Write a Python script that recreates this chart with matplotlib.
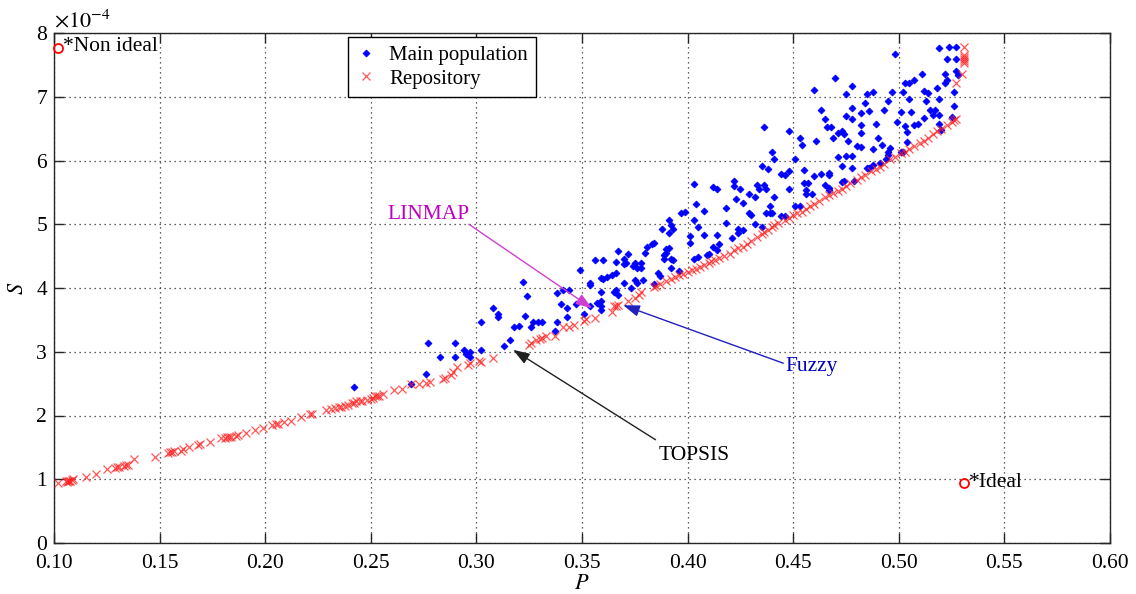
import matplotlib
matplotlib.use("Agg")
import matplotlib.pyplot as plt

plt.rcParams["font.family"] = ["Liberation Serif", "DejaVu Serif"]
plt.rcParams["mathtext.fontset"] = "stix"

# Main population (P, S x 1e-4)
main_p = [0.242, 0.269, 0.276, 0.277, 0.283, 0.290, 0.290, 0.294, 0.295, 0.297,
          0.297, 0.302, 0.302, 0.308, 0.310, 0.310, 0.313, 0.316, 0.318, 0.320,
          0.322, 0.324, 0.323, 0.326, 0.327, 0.329, 0.331, 0.337, 0.338, 0.338,
          0.341, 0.344, 0.340, 0.343, 0.343, 0.347, 0.349, 0.351, 0.354, 0.354,
          0.354, 0.356, 0.357, 0.359, 0.359, 0.359, 0.359, 0.359, 0.360, 0.360,
          0.362, 0.364, 0.365, 0.366, 0.366, 0.366, 0.367, 0.367, 0.370, 0.370,
          0.370, 0.371, 0.372, 0.373, 0.374, 0.375, 0.375, 0.376, 0.376, 0.378,
          0.378, 0.379, 0.380, 0.381, 0.383, 0.384, 0.384, 0.386, 0.387, 0.388,
          0.389, 0.389, 0.390, 0.390, 0.391, 0.391, 0.391, 0.392, 0.392, 0.392,
          0.393, 0.393, 0.396, 0.397, 0.399, 0.401, 0.401, 0.403, 0.403, 0.403,
          0.404, 0.405, 0.405, 0.408, 0.408, 0.409, 0.410, 0.412, 0.412, 0.414,
          0.414, 0.414, 0.415, 0.418, 0.418, 0.421, 0.422, 0.422, 0.423, 0.424,
          0.424, 0.425, 0.426, 0.426, 0.429, 0.429, 0.430, 0.432, 0.432, 0.433,
          0.434, 0.435, 0.435, 0.436, 0.436, 0.437, 0.437, 0.438, 0.439, 0.439,
          0.440, 0.440, 0.441, 0.441, 0.444, 0.444, 0.446, 0.446, 0.448, 0.448,
          0.448, 0.451, 0.451, 0.453, 0.453, 0.454, 0.455, 0.455, 0.456, 0.456,
          0.457, 0.459, 0.460, 0.460, 0.461, 0.463, 0.463, 0.465, 0.465, 0.466,
          0.467, 0.467, 0.467, 0.467, 0.468, 0.469, 0.470, 0.471, 0.471, 0.473,
          0.473, 0.473, 0.474, 0.474, 0.475, 0.475, 0.475, 0.476, 0.478, 0.478,
          0.478, 0.478, 0.478, 0.479, 0.480, 0.482, 0.482, 0.482, 0.482, 0.484,
          0.485, 0.485, 0.486, 0.486, 0.488, 0.488, 0.488, 0.489, 0.490, 0.491,
          0.492, 0.493, 0.494, 0.495, 0.495, 0.495, 0.496, 0.497, 0.498, 0.499,
          0.501, 0.501, 0.502, 0.502, 0.503, 0.503, 0.504, 0.504, 0.505, 0.505,
          0.506, 0.507, 0.507, 0.509, 0.511, 0.512, 0.512, 0.513, 0.514, 0.515,
          0.516, 0.517, 0.518, 0.519, 0.519, 0.519, 0.519, 0.520, 0.522, 0.522,
          0.523, 0.523, 0.524, 0.525, 0.526, 0.526, 0.527, 0.527, 0.527, 0.528]
main_s = [2.44, 2.49, 2.65, 3.14, 2.92, 3.14, 2.92, 3.03, 2.96, 2.92,
          3.00, 3.47, 3.03, 3.68, 3.60, 3.55, 3.09, 3.19, 3.39, 3.41,
          4.10, 3.87, 3.56, 3.39, 3.46, 3.46, 3.46, 3.32, 3.46, 3.92,
          3.97, 3.97, 3.75, 3.68, 3.55, 3.75, 4.28, 3.60, 3.72, 4.08,
          4.05, 4.44, 3.76, 3.79, 3.71, 3.66, 3.94, 4.16, 4.44, 4.14,
          4.18, 4.20, 3.94, 3.97, 4.41, 4.23, 3.89, 4.58, 4.08, 4.45,
          4.37, 4.40, 4.54, 4.00, 4.35, 4.13, 4.39, 4.08, 4.31, 4.40,
          4.32, 4.13, 4.55, 4.64, 4.69, 4.71, 4.07, 4.23, 4.19, 4.93,
          4.52, 4.45, 4.55, 4.61, 4.63, 5.07, 4.86, 4.45, 4.32, 4.99,
          4.93, 4.44, 4.26, 5.18, 5.20, 4.82, 4.70, 5.63, 5.07, 4.45,
          5.32, 4.95, 4.49, 5.21, 4.83, 4.52, 4.54, 5.58, 4.65, 5.56,
          4.83, 4.60, 4.69, 5.26, 5.02, 4.79, 5.68, 5.60, 5.39, 4.92,
          4.86, 5.56, 5.33, 4.91, 5.48, 5.17, 5.15, 5.43, 5.00, 5.62,
          5.56, 5.91, 4.96, 6.52, 5.61, 5.56, 5.17, 5.86, 5.28, 5.17,
          6.14, 5.17, 6.02, 5.43, 5.79, 5.13, 5.77, 5.13, 6.46, 5.83,
          5.55, 6.02, 5.28, 6.36, 5.29, 6.25, 5.85, 5.64, 5.54, 5.47,
          5.64, 5.47, 7.11, 5.76, 6.31, 6.80, 5.79, 6.65, 5.62, 6.52,
          5.81, 5.78, 5.57, 5.54, 6.52, 6.35, 7.29, 6.43, 6.06, 6.46,
          5.91, 5.67, 6.41, 5.68, 7.04, 6.70, 6.07, 6.31, 7.17, 6.83,
          6.65, 6.07, 5.89, 5.68, 6.23, 6.74, 6.56, 6.43, 6.21, 6.90,
          7.04, 5.89, 6.78, 5.88, 7.08, 6.18, 5.93, 6.58, 6.36, 5.96,
          6.25, 6.80, 6.02, 6.94, 6.14, 6.09, 6.19, 7.07, 7.67, 6.60,
          6.76, 6.13, 7.08, 6.14, 7.22, 6.54, 6.44, 6.29, 7.22, 6.96,
          6.76, 7.26, 6.56, 6.57, 7.35, 7.09, 6.66, 6.94, 7.06, 6.79,
          6.71, 6.79, 7.13, 7.76, 6.97, 6.71, 6.58, 6.48, 7.35, 7.22,
          7.59, 7.26, 7.78, 6.68, 7.07, 6.85, 7.78, 7.59, 7.40, 7.34]

# Repository (Pareto front)
repo_p = [0.102, 0.1057, 0.1063, 0.1068, 0.1072, 0.1076, 0.1083, 0.1089, 0.115, 0.120,
          0.125, 0.129, 0.130, 0.131, 0.133, 0.134, 0.135, 0.138, 0.148, 0.154,
          0.155, 0.156, 0.157, 0.160, 0.161, 0.164, 0.168, 0.169, 0.174, 0.179,
          0.181, 0.182, 0.183, 0.184, 0.186, 0.187, 0.191, 0.195, 0.199, 0.203,
          0.205, 0.206, 0.209, 0.212, 0.217, 0.221, 0.222, 0.229, 0.231, 0.233,
          0.235, 0.236, 0.238, 0.239, 0.241, 0.242, 0.243, 0.245, 0.246, 0.248,
          0.250, 0.251, 0.252, 0.253, 0.254, 0.256, 0.261, 0.265, 0.269, 0.273,
          0.276, 0.278, 0.284, 0.285, 0.288, 0.289, 0.291, 0.296, 0.297, 0.301,
          0.302, 0.308, 0.325, 0.326, 0.328, 0.330, 0.331, 0.333, 0.337, 0.341,
          0.344, 0.346, 0.351, 0.352, 0.356, 0.364, 0.365, 0.366, 0.367, 0.372,
          0.375, 0.377, 0.378, 0.384, 0.385, 0.387, 0.390, 0.392, 0.394, 0.396,
          0.398, 0.400, 0.402, 0.404, 0.406, 0.408, 0.410, 0.411, 0.413, 0.415,
          0.417, 0.420, 0.422, 0.424, 0.426, 0.428, 0.430, 0.433, 0.435, 0.436,
          0.438, 0.440, 0.441, 0.443, 0.446, 0.448, 0.450, 0.452, 0.454, 0.456,
          0.458, 0.460, 0.462, 0.465, 0.467, 0.469, 0.471, 0.473, 0.475, 0.477,
          0.480, 0.482, 0.484, 0.487, 0.489, 0.491, 0.493, 0.496, 0.498, 0.501,
          0.503, 0.505, 0.507, 0.510, 0.512, 0.514, 0.516, 0.518, 0.520, 0.523,
          0.525, 0.526, 0.527, 0.527, 0.530, 0.531, 0.531, 0.531, 0.531, 0.531,
          0.531]
repo_s = [0.94, 0.97, 0.96, 0.97, 0.97, 0.98, 0.99, 1.00, 1.04, 1.09,
          1.16, 1.18, 1.19, 1.19, 1.21, 1.22, 1.23, 1.31, 1.35, 1.41,
          1.43, 1.43, 1.44, 1.45, 1.47, 1.50, 1.54, 1.55, 1.58, 1.64,
          1.65, 1.66, 1.66, 1.66, 1.68, 1.69, 1.73, 1.77, 1.81, 1.85,
          1.87, 1.87, 1.90, 1.92, 1.97, 2.02, 2.03, 2.09, 2.10, 2.12,
          2.13, 2.14, 2.15, 2.16, 2.19, 2.20, 2.22, 2.23, 2.23, 2.24,
          2.26, 2.27, 2.30, 2.30, 2.31, 2.33, 2.40, 2.41, 2.49, 2.49,
          2.51, 2.53, 2.58, 2.59, 2.64, 2.69, 2.76, 2.79, 2.83, 2.85,
          2.84, 2.90, 3.11, 3.14, 3.18, 3.20, 3.21, 3.24, 3.25, 3.39,
          3.39, 3.42, 3.49, 3.51, 3.53, 3.63, 3.71, 3.72, 3.74, 3.79,
          3.84, 3.89, 3.94, 4.02, 4.03, 4.07, 4.11, 4.14, 4.18, 4.20,
          4.22, 4.25, 4.28, 4.30, 4.33, 4.36, 4.39, 4.42, 4.44, 4.47,
          4.50, 4.54, 4.59, 4.62, 4.65, 4.69, 4.73, 4.80, 4.85, 4.88,
          4.91, 4.96, 4.99, 5.02, 5.07, 5.10, 5.14, 5.17, 5.20, 5.24,
          5.28, 5.32, 5.36, 5.42, 5.46, 5.49, 5.52, 5.55, 5.60, 5.64,
          5.70, 5.74, 5.78, 5.83, 5.86, 5.90, 5.95, 6.02, 6.06, 6.11,
          6.14, 6.18, 6.22, 6.27, 6.31, 6.35, 6.41, 6.47, 6.50, 6.56,
          6.60, 6.63, 6.65, 7.21, 7.36, 7.53, 7.56, 7.59, 7.62, 7.65,
          7.78]

# Reference points
ideal_p, ideal_s = 0.531, 0.94
nonideal_p, nonideal_s = 0.1017, 7.76

x_ticks = [0.10, 0.15, 0.20, 0.25, 0.30, 0.35, 0.40, 0.45, 0.50, 0.55, 0.60]
y_ticks = [0, 1, 2, 3, 4, 5, 6, 7, 8]

fig = plt.figure(figsize=(11.36, 5.94), dpi=100)
ax = fig.add_axes([54 / 1136, 1 - 543 / 594, 1056 / 1136, 510 / 594])

ax.plot(main_p, main_s, linestyle="none", marker="D", markersize=3.5,
        color="#0000ff", markeredgewidth=0.6, label="Main population", zorder=3)
ax.plot(repo_p, repo_s, linestyle="none", marker="x", markersize=5.5,
        color="#ff2020", markeredgewidth=0.9, alpha=0.75, label="Repository", zorder=4)

ax.plot([nonideal_p], [nonideal_s], marker="o", markersize=6.5, mfc="none",
        mec="red", mew=1.3, linestyle="none", zorder=5, clip_on=False)
ax.plot([ideal_p], [ideal_s], marker="o", markersize=6.5, mfc="none",
        mec="red", mew=1.3, linestyle="none", zorder=5)
ax.text(0.1041, 7.71, "*Non ideal", fontsize=15.5, va="baseline", ha="left")
ax.text(0.5332, 0.88, "*Ideal", fontsize=15.5, va="baseline", ha="left")

# Decision-making annotations
ax.text(0.258, 5.08, "LINMAP", fontsize=15.5, color="#c000c0", va="baseline", ha="left")
ax.annotate("", xy=(0.3548, 3.68), xytext=(0.2964, 5.00),
            arrowprops=dict(arrowstyle="-|>,head_length=1.0,head_width=0.35",
                            color="#d040d0", lw=1.0, shrinkA=0, shrinkB=0), zorder=6)
ax.text(0.4464, 2.70, "Fuzzy", fontsize=15.5, color="#0000c0", va="baseline", ha="left")
ax.annotate("", xy=(0.3695, 3.73), xytext=(0.4453, 2.82),
            arrowprops=dict(arrowstyle="-|>,head_length=1.0,head_width=0.35",
                            color="#2020c0", lw=1.0, shrinkA=0, shrinkB=0), zorder=6)
ax.text(0.3863, 1.30, "TOPSIS", fontsize=15.5, color="black", va="baseline", ha="left")
ax.annotate("", xy=(0.3174, 3.03), xytext=(0.3848, 1.62),
            arrowprops=dict(arrowstyle="-|>,head_length=1.0,head_width=0.35",
                            color="#202020", lw=1.0, shrinkA=0, shrinkB=0), zorder=6)

ax.set_xlim(0.10, 0.60)
ax.set_ylim(0, 8)
ax.set_xticks(x_ticks)
ax.set_xticklabels([f"{t:.2f}" for t in x_ticks])
ax.set_yticks(y_ticks)
ax.set_yticklabels([str(t) for t in y_ticks])
ax.tick_params(direction="in", length=7, width=1, top=True, right=True,
               labelsize=15.5, colors="#262626", labelcolor="black")
ax.tick_params(axis="x", pad=8)
ax.tick_params(axis="y", pad=5)
ax.grid(True, linestyle=(0, (1, 3)), color="#303030", linewidth=0.9)
for sp in ax.spines.values():
    sp.set_color("#262626")
    sp.set_linewidth(1.0)

ax.set_xlabel("$P$", fontsize=16, labelpad=1.5)
ax.set_ylabel("$S$", fontsize=16, labelpad=6)
ax.text(0.0, 1.01, r"$\times10^{-4}$", transform=ax.transAxes, fontsize=16,
        va="baseline", ha="left")

leg = ax.legend(loc="upper left", bbox_to_anchor=(0.278, 0.992), fontsize=15,
                frameon=True, fancybox=False, edgecolor="black", framealpha=1,
                handlelength=1.0, handletextpad=0.6, borderpad=0.4,
                labelspacing=0.2, borderaxespad=0)
leg.get_frame().set_linewidth(1.0)

fig.savefig("out.png", dpi=100)
